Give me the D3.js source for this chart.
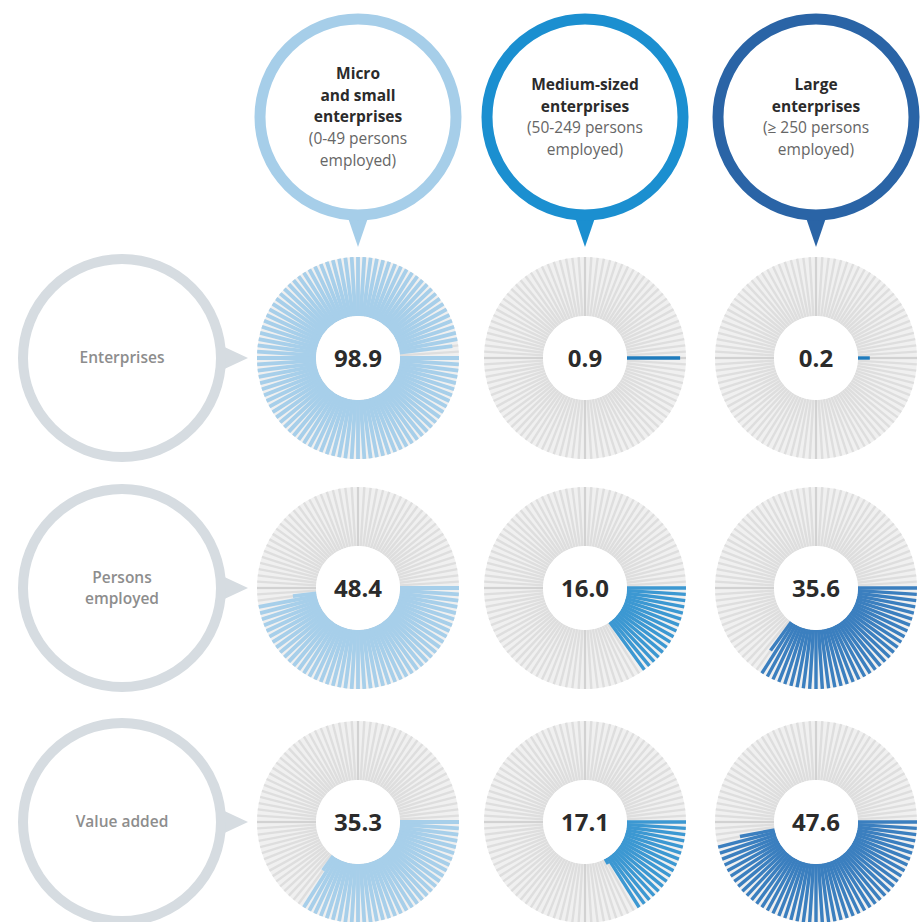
<!DOCTYPE html>
<html>
<head>
<meta charset="utf-8">
<script src="https://cdn.jsdelivr.net/npm/d3@7"></script>
<style>
  body { margin: 0; background: #fff; }
  text { font-family: "Open Sans", "Noto Sans", sans-serif; }
</style>
</head>
<body>
<div id="chart"></div>
<script>
// shares in % by enterprise size class
const indicators = ["Enterprises", ["Persons", "employed"], "Value added"];
const microSmall = [98.9, 48.4, 35.3];
const mediumSized = [0.9, 16.0, 17.1];
const large = [0.2, 35.6, 47.6];

const headTitles = [["Micro", "and small", "enterprises"], ["Medium-sized", "enterprises"], ["Large", "enterprises"]];
const headNotes = [["(0-49 persons", "employed)"], ["(50-249 persons", "employed)"], ["(\u2265 250 persons", "employed)"]];

const colX = [358, 585, 816];
const rowY = [358, 588, 822];
const headColor = ["#a6cee9", "#1b8fd0", "#2a64a6"];
const spokeColor = ["#a7cfea", "#3c98d2", "#3b7fbf"];

const width = 923, height = 922;
const nSpokes = 100;
const R0 = 42, R1 = 101;

const svg = d3.select("#chart").append("svg")
  .attr("width", width)
  .attr("height", height);

svg.append("rect").attr("width", width).attr("height", height).attr("fill", "white");

// angle of each percentage point, clockwise from 3 o'clock
const angle = d3.scaleLinear().domain([0, nSpokes]).range([0, 2 * Math.PI]);
const radius = d3.scaleLinear().domain([0, 1]).range([R0, R1]);

// header bubbles
headTitles.forEach((lines, i) => {
  const g = svg.append("g").attr("transform", `translate(${colX[i]},117)`);
  g.append("path")
    .attr("d", "M-13,92 L13,92 L0,130 Z")
    .attr("fill", headColor[i]);
  g.append("circle")
    .attr("r", 98)
    .attr("fill", "white")
    .attr("stroke", headColor[i])
    .attr("stroke-width", 11);
  const all = lines.map(t => ({t: t, bold: true})).concat(headNotes[i].map(t => ({t: t, bold: false})));
  const top = -(all.length - 1) * 21.7 / 2;
  g.selectAll("text.h").data(all).join("text")
    .attr("x", 0)
    .attr("y", (d, k) => top + k * 21.7)
    .attr("dy", "0.35em")
    .attr("text-anchor", "middle")
    .attr("font-size", 15.5)
    .attr("font-weight", d => d.bold ? 700 : 400)
    .attr("fill", d => d.bold ? "#2b2b2b" : "#666")
    .text(d => d.t);
});

// row labels
indicators.forEach((lab, j) => {
  const g = svg.append("g").attr("transform", `translate(122,${rowY[j]})`);
  g.append("path")
    .attr("d", "M96,-14 L96,14 L126,0 Z")
    .attr("fill", "#d6dce1");
  g.append("circle")
    .attr("r", 99)
    .attr("fill", "white")
    .attr("stroke", "#d6dce1")
    .attr("stroke-width", 10);
  const lines = Array.isArray(lab) ? lab : [lab];
  g.selectAll("text").data(lines).join("text")
    .attr("x", 0)
    .attr("y", (d, k) => (k - (lines.length - 1) / 2) * 21)
    .attr("dy", "0.35em")
    .attr("text-anchor", "middle")
    .attr("font-size", 15.5)
    .attr("font-weight", 600)
    .attr("fill", "#8d8d8d")
    .text(d => d);
});

// spoke donuts
const series = [microSmall, mediumSized, large];
series.forEach((vals, i) => {
  vals.forEach((v, j) => {
    const g = svg.append("g").attr("transform", `translate(${colX[i]},${rowY[j]})`);
    const idx = d3.range(nSpokes);
    g.append("circle").attr("r", (R0 + R1) / 2).attr("fill", "none")
      .attr("stroke", "#f0f0f0").attr("stroke-width", R1 - R0);
    g.selectAll("line.bg").data(idx).join("line")
      .attr("class", "bg")
      .attr("x1", k => radius(0) * Math.cos(angle(k)))
      .attr("y1", k => radius(0) * Math.sin(angle(k)))
      .attr("x2", k => radius(1) * Math.cos(angle(k)))
      .attr("y2", k => radius(1) * Math.sin(angle(k)))
      .attr("stroke", "#dedede")
      .attr("stroke-width", 2.4);
    // faint cross
    [0, 25, 50, 75].forEach(k => {
      g.append("line")
        .attr("x1", radius(0) * Math.cos(angle(k))).attr("y1", radius(0) * Math.sin(angle(k)))
        .attr("x2", radius(1) * Math.cos(angle(k))).attr("y2", radius(1) * Math.sin(angle(k)))
        .attr("stroke", "#c6c6c6").attr("stroke-width", 1);
    });
    const full = Math.floor(v + 1e-9);
    const frac = v - full;
    const spokes = d3.range(full).map(k => ({k: k, len: 1}));
    if (frac > 0.01) spokes.push({k: full, len: frac});
    g.selectAll("line.val").data(spokes).join("line")
      .attr("class", "val")
      .attr("x1", d => radius(0) * Math.cos(angle(d.k)))
      .attr("y1", d => radius(0) * Math.sin(angle(d.k)))
      .attr("x2", d => radius(d.len) * Math.cos(angle(d.k)))
      .attr("y2", d => radius(d.len) * Math.sin(angle(d.k)))
      .attr("stroke", spokes.length < 2 ? "#1f7bbd" : spokeColor[i])
      .attr("stroke-width", i === 0 ? 3.8 : 3.4);
    g.append("circle").attr("r", R0).attr("fill", "white");
    g.append("text")
      .attr("text-anchor", "middle")
      .attr("dy", "0.36em")
      .attr("font-size", 24)
      .attr("font-weight", 700)
      .attr("fill", "#2b2b2b")
      .text(v.toFixed(1));
  });
});
</script>
</body>
</html>
